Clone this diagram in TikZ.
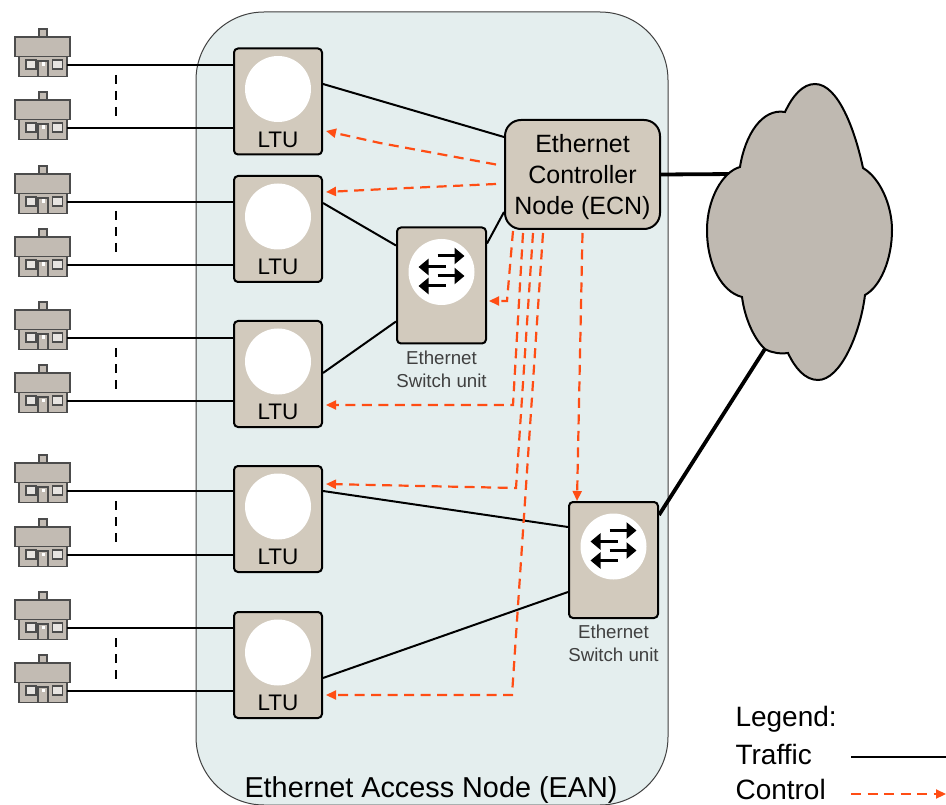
\documentclass[tikz,border=0pt]{standalone}
\usepackage{fontspec}
\setmainfont{Liberation Sans}
\usetikzlibrary{arrows.meta,positioning}
\definecolor{eanfill}{HTML}{E4EEEE}
\definecolor{unitfill}{HTML}{D2CABD}
\definecolor{housefill}{HTML}{C2BBB3}
\definecolor{cloudfill}{HTML}{BFB9B1}
\definecolor{ctrlcolor}{HTML}{FF4D14}
\tikzset{
  unitbox/.style={rectangle, draw, line width=2pt, rounded corners=4pt, fill=unitfill, inner sep=0pt},
  disc/.style={circle, fill=white, minimum size=66pt, inner sep=0pt},
  traffic/.style={line width=2pt},
  uplink/.style={line width=3.8pt},
  ctrl/.style={draw=ctrlcolor, line width=2.2pt, dash pattern=on 10pt off 6.5pt, -{Triangle[length=10pt,width=9pt,fill=ctrlcolor]}},
  gapmark/.style={line width=2pt, dash pattern=on 9pt off 7pt},
  swarrow/.style={line width=3pt, -{Triangle[length=10pt,width=16pt]}},
  housepart/.style={draw=black!70, line width=1.2pt, fill=housefill},
  ltuunit/.pic={
    \node (-box) [unitbox, minimum width=88pt, minimum height=106pt] at (0,0) {};
    \node (-disc) [disc] at (0,-12.5) {};
    \node (-text) [font=\fontsize{22.5}{25}\selectfont] at (0,38) {LTU};
  },
  switchunit/.pic={
    \node (-box) [unitbox, minimum width=89pt, minimum height=116pt] at (0,0) {};
    \node (-disc) [disc] at (0,-13.5) {};
    \draw[swarrow] (-4,-29.5) -- (23,-29.5);
    \draw[swarrow] (4,-18.5) -- (-23,-18.5);
    \draw[swarrow] (-4,-9.5) -- (23,-9.5);
    \draw[swarrow] (4,0.5) -- (-23,0.5);
    \node (-text) [below=2.5pt of -box, align=center, text=black!75, font=\fontsize{18.7}{23}\selectfont] {Ethernet\\Switch unit};
  },
  houseunit/.pic={
    \draw[housepart] (-4,-36) rectangle (4,-24);
    \draw[housepart] (-28,-28) rectangle (27,-8.5);
    \node (-body) [housepart, rectangle, minimum width=48pt, minimum height=20pt, inner sep=0pt] at (0,1.6) {};
    \draw[housepart, fill=white!60!housefill] (-17,-5) rectangle (-7,4);
    \draw[housepart, fill=white!60!housefill] (9.7,-5) rectangle (19.7,4);
    \draw[housepart] (-5,-4) rectangle (5,11.6);
    \fill[white] (-1.5,-2.5) rectangle (1.5,1);
    \coordinate (-port) at (24,0);
  }
}
\begin{document}
\begin{tikzpicture}[x=1pt, y=-1pt]
  \useasboundingbox (0,0) rectangle (946,805);
  \node (ean) [rectangle, draw=black!75, line width=1pt, rounded corners=68pt, fill=eanfill, minimum width=472pt, minimum height=793pt, inner sep=0pt] at (432,408.5) {};
  \node (eantext) [font=\fontsize{28.8}{32}\selectfont] at (431,790) {Ethernet Access Node (EAN)};

  \pic (h1) at (43,65) {houseunit};
  \pic (h2) at (43,128) {houseunit};
  \pic (h3) at (43,202) {houseunit};
  \pic (h4) at (43,265) {houseunit};
  \pic (h5) at (43,338) {houseunit};
  \pic (h6) at (43,401) {houseunit};
  \pic (h7) at (43,491) {houseunit};
  \pic (h8) at (43,555) {houseunit};
  \pic (h9) at (43,628) {houseunit};
  \pic (h10) at (43,691) {houseunit};

  \pic (ltu1) at (278,101.5) {ltuunit};
  \pic (ltu2) at (278,229) {ltuunit};
  \pic (ltu3) at (278,374) {ltuunit};
  \pic (ltu4) at (278,519) {ltuunit};
  \pic (ltu5) at (278,665) {ltuunit};

  \pic (sw1) at (441.5,285.5) {switchunit};
  \pic (sw2) at (613.5,560) {switchunit};

  \node (ecn) [unitbox, rounded corners=16pt, minimum width=155pt, minimum height=109pt] at (582.5,174.5) {};
  \node (ecntext) [align=center, font=\fontsize{25}{31}\selectfont] at (582.5,177.5) {Ethernet\\Controller\\Node (ECN)};

  \draw[traffic] (h1-port) -- (h1-port -| ltu1-box.west);
  \draw[traffic] (h2-port) -- (h2-port -| ltu1-box.west);
  \draw[traffic] (h3-port) -- (h3-port -| ltu2-box.west);
  \draw[traffic] (h4-port) -- (h4-port -| ltu2-box.west);
  \draw[traffic] (h5-port) -- (h5-port -| ltu3-box.west);
  \draw[traffic] (h6-port) -- (h6-port -| ltu3-box.west);
  \draw[traffic] (h7-port) -- (h7-port -| ltu4-box.west);
  \draw[traffic] (h8-port) -- (h8-port -| ltu4-box.west);
  \draw[traffic] (h9-port) -- (h9-port -| ltu5-box.west);
  \draw[traffic] (h10-port) -- (h10-port -| ltu5-box.west);

  \coordinate (gap1a) at (116,75);
  \coordinate (gap1b) at (116,118);
  \coordinate (gap2a) at (116,211);
  \coordinate (gap2b) at (116,254);
  \coordinate (gap3a) at (116,348);
  \coordinate (gap3b) at (116,391);
  \coordinate (gap4a) at (116,501);
  \coordinate (gap4b) at (116,544);
  \coordinate (gap5a) at (116,638);
  \coordinate (gap5b) at (116,681);
  \draw[gapmark] (gap1a) -- (gap1b);
  \draw[gapmark] (gap2a) -- (gap2b);
  \draw[gapmark] (gap3a) -- (gap3b);
  \draw[gapmark] (gap4a) -- (gap4b);
  \draw[gapmark] (gap5a) -- (gap5b);

  \draw[traffic] ([yshift=17.5pt]ltu1-box.east) -- ([yshift=37.5pt]ecn.west);
  \draw[traffic] ([yshift=26pt]ltu2-box.east) -- ([yshift=40pt]sw1-box.west);
  \draw[traffic] ([yshift=1pt]ltu3-box.east) -- ([yshift=-36pt]sw1-box.west);
  \draw[traffic] ([yshift=42pt]sw1-box.east) -- ([yshift=-37.5pt]ecn.west);
  \draw[traffic] ([yshift=28pt]ltu4-box.east) -- ([yshift=33pt]sw2-box.west);
  \draw[traffic] ([yshift=-13pt]ltu5-box.east) -- ([yshift=-32pt]sw2-box.west);

  \draw[ctrl] ([xshift=-8pt,yshift=10pt]ecn.west) -- (380,143) -- ([xshift=3pt,yshift=-29.5pt]ltu1-box.east);
  \draw[ctrl] ([xshift=-8pt,yshift=-9.5pt]ecn.west) -- (386,189) -- ([xshift=3pt,yshift=37pt]ltu2-box.east);
  \draw[ctrl] ([xshift=-69.5pt,yshift=-1pt]ecn.south) -- (507,301) -- ([xshift=2pt,yshift=-15.5pt]sw1-box.east);
  \draw[ctrl] ([xshift=-59.5pt,yshift=-3pt]ecn.south) -- (513,405) -- ([xshift=3pt,yshift=-31pt]ltu3-box.east);
  \draw[ctrl] ([xshift=-49.5pt,yshift=-3pt]ecn.south) -- (516,488) -- ([xshift=3pt,yshift=35pt]ltu4-box.east);
  \draw[ctrl] ([xshift=-39.5pt,yshift=-3pt]ecn.south) -- (512,695) -- ([xshift=3pt,yshift=-30pt]ltu5-box.east);
  \draw[ctrl] ([yshift=-3pt]ecn.south) -- ([xshift=-36.5pt]sw2-box.north);

  \coordinate (cloudleft) at (735,174);
  \coordinate (cloudlow) at (770,341);
  \draw[uplink] (ecn.east) -- (cloudleft);
  \draw[uplink] ([yshift=45pt]sw2-box.east) -- (cloudlow);

  \draw[line width=2pt, fill=cloudfill] (785,112)
    .. controls (793,95) and (803,84) .. (815,84)
    .. controls (838,84) and (855,130) .. (863,168)
    .. controls (880,178) and (892,205) .. (892,230)
    .. controls (892,260) and (880,287) .. (865,295)
    .. controls (860,335) and (840,380) .. (818,380)
    .. controls (805,380) and (795,368) .. (788,353)
    .. controls (780,354) and (772,353) .. (765,349)
    .. controls (755,340) and (745,320) .. (742,297)
    .. controls (722,292) and (707,265) .. (707,230)
    .. controls (707,200) and (722,172) .. (740,167)
    .. controls (745,135) and (762,108) .. (785,112) -- cycle;

  \node (legend) [anchor=west, font=\fontsize{28}{32}\selectfont] at (732,719) {Legend:};
  \node (traffictext) [anchor=west, font=\fontsize{28}{32}\selectfont] at (732,754) {Traffic};
  \node (controltext) [anchor=west, font=\fontsize{28}{32}\selectfont] at (732,789) {Control};
  \coordinate (trafficstart) at (851,757);
  \coordinate (trafficend) at (946,757);
  \coordinate (controlstart) at (851,794);
  \coordinate (controlend) at (946,794);
  \draw[traffic] (trafficstart) -- (trafficend);
  \draw[ctrl] (controlstart) -- (controlend);
\end{tikzpicture}
\end{document}
